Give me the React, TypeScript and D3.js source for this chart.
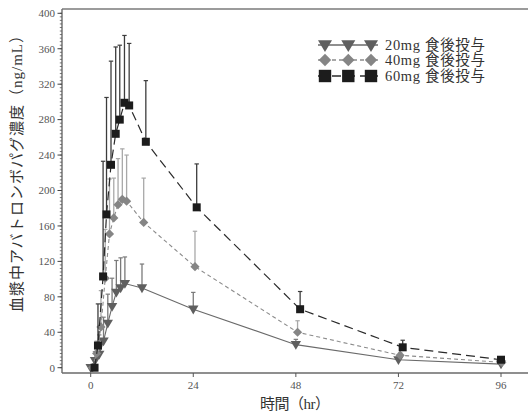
import React from "react";
import * as d3 from "d3";

// ---- data ----
const times20 = [0, 1, 2, 3, 4, 5, 6, 7, 8, 12, 24, 48, 72, 96];
const mean20 = [0, 8, 15, 30, 50, 69, 85, 90, 95, 90, 66, 26, 9, 4];
const sd20 = [0, 10, 22, 27, 33, 32, 36, 34, 30, 27, 19, 6, 3, 0];

const times40 = [0.4, 1.4, 2.4, 3.4, 4.4, 5.4, 6.4, 7.4, 8.4, 12.4, 24.4, 48.4, 72.4, 96.2];
const mean40 = [0, 16, 46, 101, 151, 169, 184, 190, 188, 164, 114, 40, 14, 6];
const sd40 = [0, 14, 41, 55, 62, 45, 52, 57, 52, 50, 40, 13, 3, 0];

const times60 = [0.9, 1.7, 2.9, 3.7, 4.75, 5.85, 6.8, 7.9, 9.0, 12.9, 24.8, 49, 73, 96];
const mean60 = [0, 25, 103, 173, 229, 264, 280, 299, 296, 255, 181, 66, 23, 9];
const sd60 = [0, 47, 130, 132, 117, 98, 84, 76, 70, 69, 49, 20, 8, 0];

const xTicks = [0, 24, 48, 72, 96];
const yTicks = [0, 40, 80, 120, 160, 200, 240, 280, 320, 360, 400];
const seriesLabels = ["20mg 食後投与", "40mg 食後投与", "60mg 食後投与"];
const xLabel = "時間（hr）";
const yLabel = "血漿中アバトロンボパグ濃度（ng/mL）";

const W = 528;
const H = 414;
const serif = "'Liberation Serif', 'DejaVu Serif', 'Noto Sans CJK JP', serif";

type Kind = "tri" | "dia" | "sq";

function Marker({ kind, x, y, s = 1, fill }: { kind: Kind; x: number; y: number; s?: number; fill: string }) {
  if (kind === "tri") {
    const w = 5.2 * s, h1 = 3.6 * s, h2 = 5.2 * s;
    return <path d={`M${x - w},${y - h1}L${x + w},${y - h1}L${x},${y + h2}Z`} fill={fill} />;
  }
  if (kind === "dia") {
    const r = 4.6 * s;
    return <path d={`M${x},${y - r}L${x + r},${y}L${x},${y + r}L${x - r},${y}Z`} fill={fill} />;
  }
  const a = 4 * s;
  return <rect x={x - a} y={y - a} width={2 * a} height={2 * a} fill={fill} />;
}

export default function App() {
  const x = d3.scaleLinear().domain([0, 96]).range([90.7, 501]);
  const y = d3.scaleLinear().domain([0, 400]).range([367.7, 13.3]);
  const axisX = 62;
  const axisBottom = 373;
  const top = 9;

  const series = [
    { t: times20, m: mean20, sd: sd20, kind: "tri" as Kind, fill: "#5f5f5f", line: "#6a6a6a", dash: "", bar: "#7a7a7a", lw: 1.1 },
    { t: times40, m: mean40, sd: sd40, kind: "dia" as Kind, fill: "#858585", line: "#8c8c8c", dash: "4,3", bar: "#a8a8a8", lw: 1.1 },
    { t: times60, m: mean60, sd: sd60, kind: "sq" as Kind, fill: "#1c1c1c", line: "#2a2a2a", dash: "9,5", bar: "#3c3c3c", lw: 1.2 },
  ];

  const line = d3
    .line<[number, number]>()
    .x((d) => x(d[0]))
    .y((d) => y(d[1]));

  const minor = d3.range(0, 401, 4);

  return (
    <svg width={W} height={H} style={{ position: "absolute", left: 0, top: 0, background: "#fff" }}>
      {/* frame */}
      <line x1={axisX} x2={W} y1={top} y2={top} stroke="#7a7a7a" strokeWidth={1.6} />
      <line x1={axisX} x2={axisX} y1={top} y2={axisBottom} stroke="#6a6a6a" strokeWidth={1.4} />
      <line x1={axisX} x2={W} y1={axisBottom} y2={axisBottom} stroke="#6a6a6a" strokeWidth={1.4} />

      {/* y minor ticks */}
      {minor.map((v) => (
        <line key={"m" + v} x1={axisX - 2.2} x2={axisX} y1={y(v)} y2={y(v)} stroke="#555" strokeWidth={0.8} />
      ))}
      {yTicks.map((v) => (
        <g key={"y" + v}>
          <line x1={axisX - 4.5} x2={axisX} y1={y(v)} y2={y(v)} stroke="#444" strokeWidth={1} />
          <text x={55} y={y(v) + 3.8} textAnchor="end" fontFamily={serif} fontSize={11} fill="#555">
            {v}
          </text>
        </g>
      ))}
      {xTicks.map((v) => (
        <g key={"x" + v}>
          <line x1={x(v)} x2={x(v)} y1={axisBottom} y2={axisBottom + 4} stroke="#555" strokeWidth={1} />
          <text x={x(v)} y={388.5} textAnchor="middle" fontFamily={serif} fontSize={11} fill="#555">
            {v}
          </text>
        </g>
      ))}

      {/* series */}
      {series.map((s, si) => {
        const pts: [number, number][] = s.t.map((t, i) => [t, s.m[i]]);
        return (
          <g key={"s" + si}>
            {s.t.map((t, i) =>
              s.sd[i] > 0 ? (
                <g key={"e" + i}>
                  <line x1={x(t)} x2={x(t)} y1={y(s.m[i])} y2={y(s.m[i] + s.sd[i])} stroke={s.bar} strokeWidth={1.3} />
                  <line x1={x(t) - 2.2} x2={x(t) + 2.2} y1={y(s.m[i] + s.sd[i])} y2={y(s.m[i] + s.sd[i])} stroke={s.bar} strokeWidth={1.2} />
                </g>
              ) : null
            )}
            <path d={line(pts) || ""} fill="none" stroke={s.line} strokeWidth={s.lw} strokeDasharray={s.dash || undefined} />
            {pts.map((p, i) => (
              <Marker key={"p" + i} kind={s.kind} x={x(p[0])} y={y(p[1])} fill={s.fill} />
            ))}
          </g>
        );
      })}

      {/* legend */}
      {series.map((s, si) => {
        const ly = [45, 60, 76][si];
        const mx = [325, 348.3, 371];
        return (
          <g key={"l" + si}>
            <line x1={318} x2={378} y1={ly} y2={ly} stroke={s.line} strokeWidth={1.5} strokeDasharray={s.dash || undefined} />
            {mx.map((m, k) => (
              <Marker key={k} kind={s.kind} x={m} y={ly} s={si === 2 ? 1.55 : 1.35} fill={s.fill} />
            ))}
            <text x={385} y={ly + 4.5} fontFamily={serif} fontSize={14.5} fill="#333" textLength={100} lengthAdjust="spacing">
              {seriesLabels[si]}
            </text>
          </g>
        );
      })}

      {/* axis labels */}
      <text x={260} y={409} fontFamily={serif} fontSize={15} fill="#333" textLength={70} lengthAdjust="spacing">
        {xLabel}
      </text>
      <text
        transform={`translate(22,312) rotate(-90)`}
        fontFamily={serif}
        fontSize={15}
        fill="#333"
        textLength={284}
        lengthAdjust="spacing"
      >
        {yLabel}
      </text>
    </svg>
  );
}
